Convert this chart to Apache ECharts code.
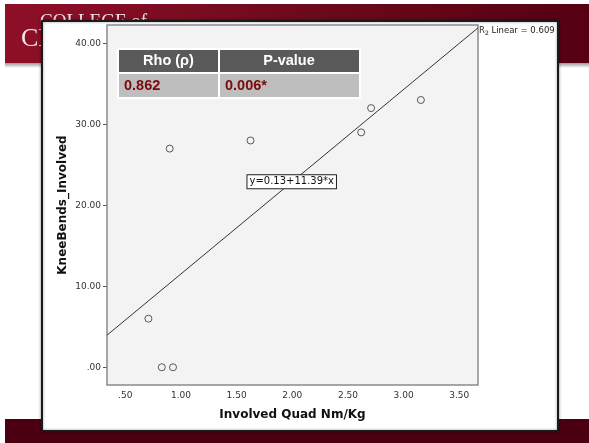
<!DOCTYPE html>
<html>
<head>
<meta charset="utf-8">
<script src="https://cdn.jsdelivr.net/npm/echarts@6/dist/echarts.min.js"></script>
<style>html,body{margin:0;padding:0;background:#fff;}#c{width:589px;height:443px;}</style>
</head>
<body>
<div id="c"></div>
<script>
// ---- data ----
const quadX = [0.708, 0.828, 0.929, 0.899, 1.625, 2.619, 2.708, 3.155];
const kneeBends = [6, 0, 0, 27, 28, 29, 32, 33];
const fitX = [0.336, 3.668];
const fitY = [3.96, 41.91];
const xTicks = [0.5, 1.0, 1.5, 2.0, 2.5, 3.0, 3.5];
const yTicks = [0, 10, 20, 30, 40];
const tableHeaders = ['Rho (\u03c1)', 'P-value'];
const tableValues = ['0.862', '0.006*'];
const equationText = 'y=0.13+11.39*x';
const r2Text = '0.609';

const fmt = v => { let s = Number(v).toFixed(2); if (s.startsWith('0.')) s = s.slice(1); return s; };

const chart = echarts.init(document.getElementById('c'));
const font = 'DejaVu Sans';
const tfont = 'bold 14.5px Arial, "Liberation Sans"';

const option = {
  animation: false,
  backgroundColor: '#ffffff',
  grid: { left: 107, top: 25, right: 111, bottom: 58, show: true, backgroundColor: '#f3f3f3', borderColor: '#8a8a8a', borderWidth: 1.5, z: 3 },
  xAxis: {
    type: 'value', min: 0.336, max: 3.668,
    name: 'Involved Quad Nm/Kg', nameLocation: 'middle', nameGap: 24,
    nameTextStyle: { fontFamily: font, fontWeight: 'bold', fontSize: 12, color: '#111' },
    axisLine: { show: false },
    splitLine: { show: false },
    axisTick: { show: true, length: 4, customValues: xTicks, lineStyle: { color: '#555' } },
    axisLabel: { customValues: xTicks, formatter: fmt, fontFamily: font, fontSize: 9, color: '#333', margin: 6 }
  },
  yAxis: {
    type: 'value', min: -2.19, max: 42.26,
    name: 'KneeBends_Involved', nameLocation: 'middle', nameGap: 38, nameMoveOverlap: false,
    nameTextStyle: { fontFamily: font, fontWeight: 'bold', fontSize: 12, color: '#111' },
    axisLine: { show: false },
    splitLine: { show: false },
    axisTick: { show: true, length: 4, customValues: yTicks, lineStyle: { color: '#555' } },
    axisLabel: { customValues: yTicks, formatter: fmt, fontFamily: font, fontSize: 9, color: '#333', margin: 6 }
  },
  series: [
    {
      type: 'line', data: fitX.map((x, i) => [x, fitY[i]]), showSymbol: false, symbol: 'none',
      lineStyle: { color: '#333', width: 1 }, z: 4, silent: true,
      markPoint: {
        symbol: 'rect', symbolSize: 1, silent: true,
        data: [{ coord: [1.995, 22.9], value: equationText,
          itemStyle: { color: 'transparent' },
          label: { show: true, formatter: equationText, position: 'inside', fontFamily: font, fontSize: 10, color: '#111',
            backgroundColor: '#ffffff', borderColor: '#222', borderWidth: 1, padding: [2, 2, 1, 2] } }]
      }
    },
    {
      type: 'scatter', data: quadX.map((x, i) => [x, kneeBends[i]]), symbol: 'circle', symbolSize: 7,
      itemStyle: { color: 'rgba(0,0,0,0)', borderColor: '#333', borderWidth: 1 }, z: 5
    }
  ],
  graphic: [
    // slide background bands
    { type: 'rect', z: -10, shape: { x: 5, y: 4, width: 584, height: 59 },
      style: { fill: new echarts.graphic.LinearGradient(0, 0, 1, 0, [{ offset: 0, color: '#8e0f28' }, { offset: 0.5, color: '#6e0a1c' }, { offset: 1, color: '#560012' }]) } },
    { type: 'rect', z: -10, shape: { x: 5, y: 63, width: 584, height: 5 },
      style: { fill: new echarts.graphic.LinearGradient(0, 0, 0, 1, [{ offset: 0, color: '#9a9a9a' }, { offset: 1, color: '#ffffff' }]) } },
    { type: 'rect', z: -10, shape: { x: 5, y: 419, width: 584, height: 24 }, style: { fill: '#4a0012' } },
    { type: 'text', z: -9, left: 40, top: 13, style: { text: 'COLLEGE of', fill: '#f2e6e8', font: '19px "Liberation Serif"' } },
    { type: 'text', z: -9, left: 21, top: 26, style: { text: 'CHIROPRACTIC', fill: '#f2e6e8', font: '26px "Liberation Serif"' } },
    // white frame
    { type: 'rect', z: -5, shape: { x: 42, y: 21, width: 516, height: 410 },
      style: { fill: '#ffffff', stroke: '#1a1a1a', lineWidth: 2, shadowBlur: 3, shadowColor: 'rgba(0,0,0,0.4)' } },
    // table
    { type: 'rect', z: 20, shape: { x: 117, y: 48, width: 244, height: 51 }, style: { fill: '#ffffff' } },
    { type: 'rect', z: 21, shape: { x: 119, y: 50, width: 99, height: 22 }, style: { fill: '#5a5a5a' } },
    { type: 'rect', z: 21, shape: { x: 220, y: 50, width: 139, height: 22 }, style: { fill: '#5a5a5a' } },
    { type: 'rect', z: 21, shape: { x: 119, y: 74, width: 99, height: 23 }, style: { fill: '#bebebe' } },
    { type: 'rect', z: 21, shape: { x: 220, y: 74, width: 139, height: 23 }, style: { fill: '#bebebe' } },
    { type: 'text', z: 22, x: 168.5, y: 61, style: { text: tableHeaders[0], fill: '#ffffff', font: tfont, textAlign: 'center', textVerticalAlign: 'middle' } },
    { type: 'text', z: 22, x: 289, y: 61, style: { text: tableHeaders[1], fill: '#ffffff', font: tfont, textAlign: 'center', textVerticalAlign: 'middle' } },
    { type: 'text', z: 22, x: 124, y: 86, style: { text: tableValues[0], fill: '#7a0a0c', font: tfont, textAlign: 'left', textVerticalAlign: 'middle' } },
    { type: 'text', z: 22, x: 225, y: 86, style: { text: tableValues[1], fill: '#7a0a0c', font: tfont, textAlign: 'left', textVerticalAlign: 'middle' } },
    // R2 label
    { type: 'text', z: 22, x: 479, y: 31, style: {
        text: '{a|R}{b|2}{a| Linear = ' + r2Text + '}', textVerticalAlign: 'middle',
        rich: { a: { fontFamily: font, fontSize: 8.5, fill: '#222', color: '#222' }, b: { fontFamily: font, fontSize: 6, color: '#222', padding: [5, 0, 0, 0] } } } }
  ]
};
chart.setOption(option);
</script>
</body>
</html>
